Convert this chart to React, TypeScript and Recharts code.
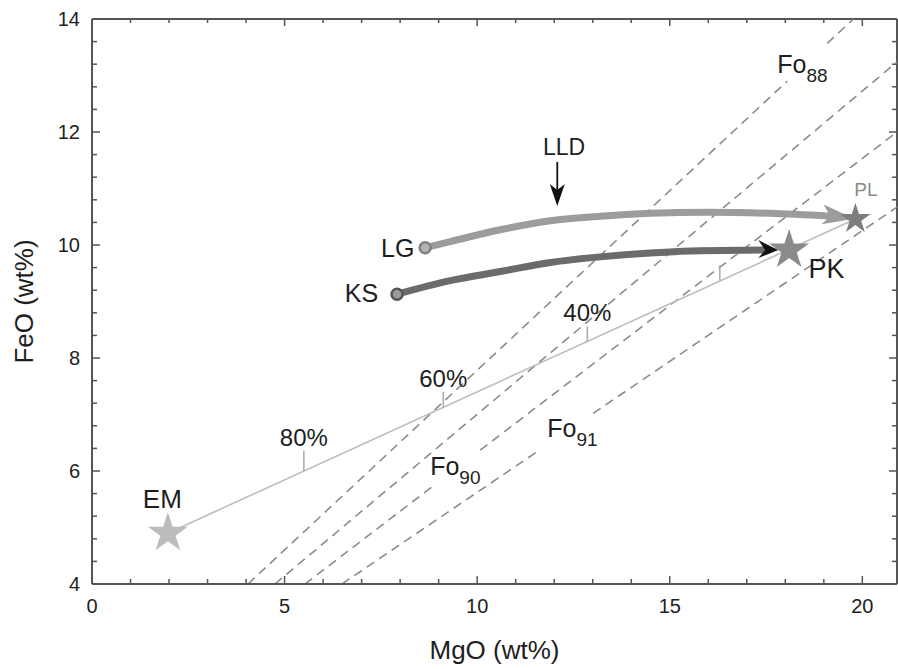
import React from 'react'
import { ComposedChart, Line, Scatter, XAxis, YAxis, ReferenceLine, ReferenceDot, Label } from 'recharts'

const FONT = '"Liberation Sans", Arial, Helvetica, sans-serif'
const AXIS = '#555'
const INK = '#1e1e1e'
const DASH = '#8c8c8c'
const X_MIN = 0
const X_MAX = 20.9
const Y_MIN = 4
const Y_MAX = 14
// px per data unit, used only to size the inward tick marks
const PX_X = 805 / X_MAX
const PX_Y = 565 / (Y_MAX - Y_MIN)

// axis ticks (minor + labelled majors)
const xTicks = [0, 1, 2, 3, 4, 5, 6, 7, 8, 9, 10, 11, 12, 13, 14, 15, 16, 17, 18, 19, 20]
const xMajor = [0, 5, 10, 15, 20]
const yTicks = [4, 4.4, 4.8, 5.2, 5.6, 6, 6.4, 6.8, 7.2, 7.6, 8, 8.4, 8.8, 9.2, 9.6, 10, 10.4, 10.8, 11.2, 11.6, 12, 12.4, 12.8, 13.2, 13.6, 14]
const yMajor = [4, 6, 8, 10, 12, 14]

// olivine-equilibrium lines, split where the Fo label sits
const fo88Segs = [
  [{ x: 4.05, y: 4 }, { x: 18.05, y: 12.9 }],
  [{ x: 19.09, y: 13.57 }, { x: 19.77, y: 14 }],
]
const fo89Segs = [[{ x: 4.75, y: 4 }, { x: 20.9, y: 13.24 }]]
const fo90Segs = [
  [{ x: 5.53, y: 4 }, { x: 8.83, y: 5.72 }],
  [{ x: 10.08, y: 6.37 }, { x: 20.9, y: 12.0 }],
]
const fo91Segs = [
  [{ x: 6.49, y: 4 }, { x: 11.64, y: 6.38 }],
  [{ x: 13.01, y: 7.02 }, { x: 20.9, y: 10.67 }],
]
const foLabels = [
  { sub: '88', x: 17.79, y: 13.04 },
  { sub: '90', x: 8.78, y: 5.93 },
  { sub: '91', x: 11.82, y: 6.6 },
]

// end members
const emStar = { x: 1.97, y: 4.9 }
const pkStar = { x: 18.1, y: 9.91 }
const plStar = { x: 19.82, y: 10.46 }
const mixLine = [emStar, plStar]

// % marks along the mixing line
const mixTickX = [5.5, 9.12, 12.86, 16.3]
const mixTickBase = [6.0, 7.12, 8.29, 9.37]
const mixTickTop = [6.36, 7.4, 8.56, 9.64]
const mixTickText = ['80%', '60%', '40%', '']

// liquid lines of descent
const lgCurve = [
  { x: 8.65, y: 9.95 }, { x: 9.3, y: 10.06 }, { x: 10.6, y: 10.27 }, { x: 11.9, y: 10.43 },
  { x: 13.2, y: 10.51 }, { x: 14.5, y: 10.56 }, { x: 16.0, y: 10.58 }, { x: 17.6, y: 10.56 },
  { x: 19.17, y: 10.51 },
]
const ksCurve = [
  { x: 7.92, y: 9.13 }, { x: 9.3, y: 9.37 }, { x: 10.6, y: 9.53 }, { x: 11.9, y: 9.69 },
  { x: 13.19, y: 9.79 }, { x: 14.49, y: 9.86 }, { x: 15.79, y: 9.9 }, { x: 17.48, y: 9.91 },
]

const textLabels = [
  { t: 'LG', x: 8.37, y: 9.79, anchor: 'end', size: 25, color: INK },
  { t: 'KS', x: 7.43, y: 8.99, anchor: 'end', size: 25, color: INK },
  { t: 'PK', x: 18.6, y: 9.42, anchor: 'start', size: 27, color: INK },
  { t: 'PL', x: 19.79, y: 10.87, anchor: 'start', size: 19, color: '#8a8a8a' },
  { t: 'EM', x: 1.32, y: 5.35, anchor: 'start', size: 26, color: INK },
  { t: 'LLD', x: 11.71, y: 11.59, anchor: 'start', size: 23, color: INK },
]
const lldShaft = [{ x: 12.08, y: 11.47 }, { x: 12.08, y: 10.9 }]
const lldTip = { x: 12.08, y: 10.69 }

const starPoints = (cx: number, cy: number, R: number) => {
  const pts: string[] = []
  for (let i = 0; i < 10; i++) {
    const r = i % 2 === 0 ? R : R * 0.382
    const a = -Math.PI / 2 + (i * Math.PI) / 5
    pts.push(`${cx + r * Math.cos(a)},${cy + r * Math.sin(a)}`)
  }
  return pts.join(' ')
}
const makeStar = (R: number, fill: string) => (p: any) => (
  <polygon points={starPoints(p.cx, p.cy, R)} fill={fill} />
)

const curveDot = (n: number, fill: string, ring: string, head: string, headPath: string, angle: number) => (p: any) => {
  const { cx, cy, index } = p
  if (index === 0) return <circle key={`d${index}`} cx={cx} cy={cy} r={5.5} fill={fill} stroke={ring} strokeWidth={2.5} />
  if (index === n - 1)
    return <path key={`d${index}`} d={headPath} fill={head} transform={`translate(${cx},${cy}) rotate(${angle})`} />
  return <g key={`d${index}`} />
}

const BottomTick = (p: any) => {
  const v = p.payload.value
  if (!xMajor.includes(v)) return <g />
  return <text x={p.x} y={p.y + 29} textAnchor="middle" fontSize={20} fill={INK}>{v}</text>
}
const LeftTick = (p: any) => {
  const v = p.payload.value
  if (!yMajor.includes(v)) return <g />
  return <text x={p.x - 12} y={p.y + 7} textAnchor="end" fontSize={20} fill={INK}>{v}</text>
}

export default function App() {
  const foSegs = [...fo88Segs, ...fo89Segs, ...fo90Segs, ...fo91Segs]
  const tickSegs: { x: number; y: number }[][] = []
  xTicks.forEach((t) => {
    const major = xMajor.includes(t)
    tickSegs.push([{ x: t, y: Y_MIN }, { x: t, y: Y_MIN + (major ? 8 : 5) / PX_Y }])
    tickSegs.push([{ x: t, y: Y_MAX }, { x: t, y: Y_MAX - (major ? 7 : 4) / PX_Y }])
  })
  yTicks.forEach((t) => {
    const major = yMajor.includes(t)
    tickSegs.push([{ x: X_MIN, y: t }, { x: X_MIN + (major ? 8 : 5) / PX_X, y: t }])
    tickSegs.push([{ x: X_MAX, y: t }, { x: X_MAX - (major ? 8 : 5) / PX_X, y: t }])
  })
  return (
    <div style={{ position: 'absolute', left: 0, top: 0, fontFamily: FONT, background: '#fff' }}>
      <ComposedChart width={898} height={669} margin={{ top: 19, right: 1, bottom: 0, left: 0 }}>
        <XAxis type="number" dataKey="x" domain={[X_MIN, X_MAX]} ticks={xTicks} interval={0} allowDataOverflow
          height={85} tickSize={0} tickMargin={0} tickLine={false} tick={BottomTick}
          axisLine={{ stroke: AXIS, strokeWidth: 2 }}>
          <Label position="insideBottom" offset={10} value="MgO (wt%)" style={{ fontSize: 26, fill: INK }} />
        </XAxis>
        <YAxis type="number" domain={[Y_MIN, Y_MAX]} ticks={yTicks} interval={0} allowDataOverflow width={92}
          tickSize={0} tickMargin={0} tickLine={false} tick={LeftTick} axisLine={{ stroke: AXIS, strokeWidth: 2 }}>
          <Label
            content={(p: any) => {
              const vb = p.viewBox
              const cx = vb.x + 24
              const cy = vb.y + vb.height / 2
              return (
                <text x={cx} y={cy} transform={`rotate(-90 ${cx} ${cy})`} textAnchor="middle"
                  dominantBaseline="central" fontSize={26} fill={INK}>FeO (wt%)</text>
              )
            }}
          />
        </YAxis>

        <ReferenceLine y={Y_MAX} stroke={AXIS} strokeWidth={2} ifOverflow="visible" />
        <ReferenceLine x={X_MAX} stroke={AXIS} strokeWidth={2} ifOverflow="visible" />
        {tickSegs.map((s, i) => (
          <ReferenceLine key={`tk${i}`} segment={s} stroke={AXIS} strokeWidth={1.5} ifOverflow="visible" />
        ))}

        {foSegs.map((s, i) => (
          <ReferenceLine key={`fo${i}`} segment={s} stroke={DASH} strokeWidth={1.6} strokeDasharray="9 6" ifOverflow="hidden" />
        ))}

        <Line data={mixLine} dataKey="y" stroke="#bdbdbd" strokeWidth={1.6} dot={false} activeDot={false}
          isAnimationActive={false} />
        {mixTickX.map((x, i) => (
          <ReferenceLine key={`mt${i}`} segment={[{ x, y: mixTickBase[i] }, { x, y: mixTickTop[i] }]}
            stroke="#adadad" strokeWidth={1.6} />
        ))}

        <Line data={lgCurve} dataKey="y" type="monotone" stroke="#9c9c9c" strokeWidth={7} activeDot={false}
          isAnimationActive={false}
          dot={curveDot(lgCurve.length, '#b4b4b4', '#808080', '#9c9c9c', 'M24 0 L-8 -11 L0 0 L-8 9 Z', 6)} />
        <Line data={ksCurve} dataKey="y" type="monotone" stroke="#6b6b6b" strokeWidth={7} activeDot={false}
          isAnimationActive={false}
          dot={curveDot(ksCurve.length, '#9a9a9a', '#555', '#111', 'M13 0 L-7 -10 L0 0 L-7 8 Z', 0)} />

        <Scatter data={[emStar]} dataKey="y" shape={makeStar(21, '#bcbcbc')} isAnimationActive={false} />
        <Scatter data={[pkStar]} dataKey="y" shape={makeStar(21, '#8a8a8a')} isAnimationActive={false} />
        <Scatter data={[plStar]} dataKey="y" shape={makeStar(16, '#7e7e7e')} isAnimationActive={false} />

        <ReferenceLine segment={lldShaft} stroke="#111" strokeWidth={1.8} />
        <ReferenceDot x={lldTip.x} y={lldTip.y} r={0}
          shape={(p: any) => <path d={`M${p.cx} ${p.cy} L${p.cx - 7.5} ${p.cy - 22} L${p.cx} ${p.cy - 16} L${p.cx + 7.5} ${p.cy - 22} Z`} fill="#111" />} />

        {mixTickX.map((x, i) => (
          <ReferenceDot key={`ml${i}`} x={x} y={mixTickTop[i]} r={0}
            shape={(p: any) => <text x={p.cx} y={p.cy - 5} textAnchor="middle" fontSize={24} fill={INK}>{mixTickText[i]}</text>} />
        ))}
        {foLabels.map((f) => (
          <ReferenceDot key={f.sub} x={f.x} y={f.y} r={0}
            shape={(p: any) => (
              <text x={p.cx} y={p.cy} fontSize={25} fill={INK}>
                Fo<tspan fontSize={19} dy={9}>{f.sub}</tspan>
              </text>
            )} />
        ))}
        {textLabels.map((l) => (
          <ReferenceDot key={l.t} x={l.x} y={l.y} r={0}
            shape={(p: any) => <text x={p.cx} y={p.cy} textAnchor={l.anchor as any} fontSize={l.size} fill={l.color}>{l.t}</text>} />
        ))}
      </ComposedChart>
    </div>
  )
}
